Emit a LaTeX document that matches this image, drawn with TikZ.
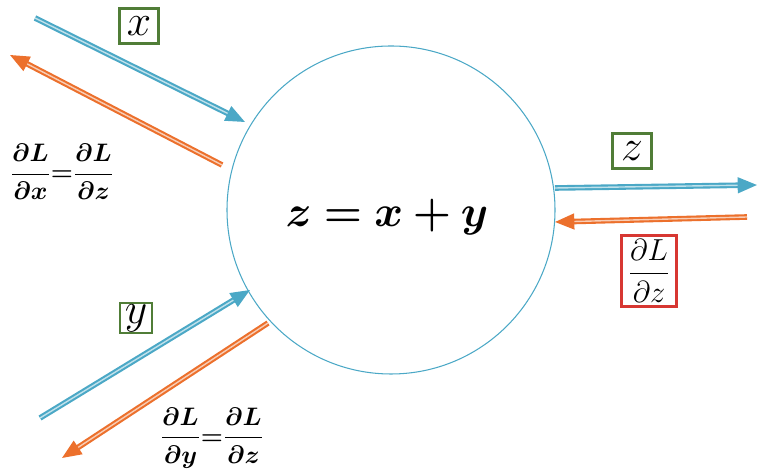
\documentclass[tikz,border=0pt]{standalone}
\usepackage{amsmath}
\usepackage{bm}
\usepackage{tikz}
\usetikzlibrary{arrows.meta,positioning,calc}

\definecolor{fwd}{RGB}{75,168,198}
\definecolor{bwd}{RGB}{236,112,44}
\definecolor{vbox}{RGB}{80,125,55}
\definecolor{gbox}{RGB}{215,55,50}

\begin{document}
\begin{tikzpicture}[
  x=0.02cm, y=-0.02cm,
  gate/.style={circle, draw=fwd, line width=0.6pt, minimum size=328*0.02cm, inner sep=0pt},
  var/.style={draw=vbox, line width=1.2pt, inner sep=0pt, minimum width=0.78cm,
              minimum height=0.7cm, font=\fontsize{25}{29}\selectfont},
  grad/.style={draw=gbox, line width=1.2pt, inner sep=0pt, minimum width=1.1cm,
               minimum height=1.42cm, font=\fontsize{19}{23}\selectfont},
  lbl/.style={inner sep=0pt, font=\fontsize{14}{17}\selectfont},
  fw/.style={-{Triangle[length=11pt,width=9pt]}, draw=fwd, line width=1.2pt,
             double=fwd!35!white, double distance=0.8pt},
  bw/.style={-{Triangle[length=11pt,width=9pt]}, draw=bwd, line width=1.2pt,
             double=bwd!35!white, double distance=0.8pt}
]
\useasboundingbox (0,0) rectangle (758,475);

% the add gate
\node[gate] (c) at (391,210) {};
\node[font=\fontsize{23.5}{28}\selectfont] (f) at (387,217) {$\bm{z = x + y}$};

% end points
\coordinate (xin)  at (35,18);
\coordinate (xend) at (245,122);
\coordinate (xgs)  at (222,165);
\coordinate (xout) at (10,55);
\coordinate (zs)   at (555,188);
\coordinate (zout) at (757,185);
\coordinate (zgin) at (747,217);
\coordinate (zge)  at (555,222);
\coordinate (yin)  at (40,418);
\coordinate (yend) at (250,290);
\coordinate (ygs)  at (268,323);
\coordinate (yout) at (62,458);

\draw[fw] (xin) -- (xend);
\draw[bw] (xgs) -- (xout);
\draw[fw] (zs) -- (zout);
\draw[bw] (zgin) -- (zge);
\draw[fw] (yin) -- (yend);
\draw[bw] (ygs) -- (yout);

% labels
\node[var] (lx) at (139,26) {$x$};
\node[var] (lz) at (632,151) {$z$};
\node[var, minimum width=0.64cm, minimum height=0.6cm] (ly) at (136,318) {$y$};
\node[grad] (lg) at (649,271) {$\dfrac{\partial L}{\partial z}$};
\node[lbl] (gx) at (62,172) {$\bm{\dfrac{\partial L}{\partial x}{=}\dfrac{\partial L}{\partial z}}$};
\node[lbl] (gy) at (212,438) {$\bm{\dfrac{\partial L}{\partial y}{=}\dfrac{\partial L}{\partial z}}$};
\end{tikzpicture}
\end{document}
